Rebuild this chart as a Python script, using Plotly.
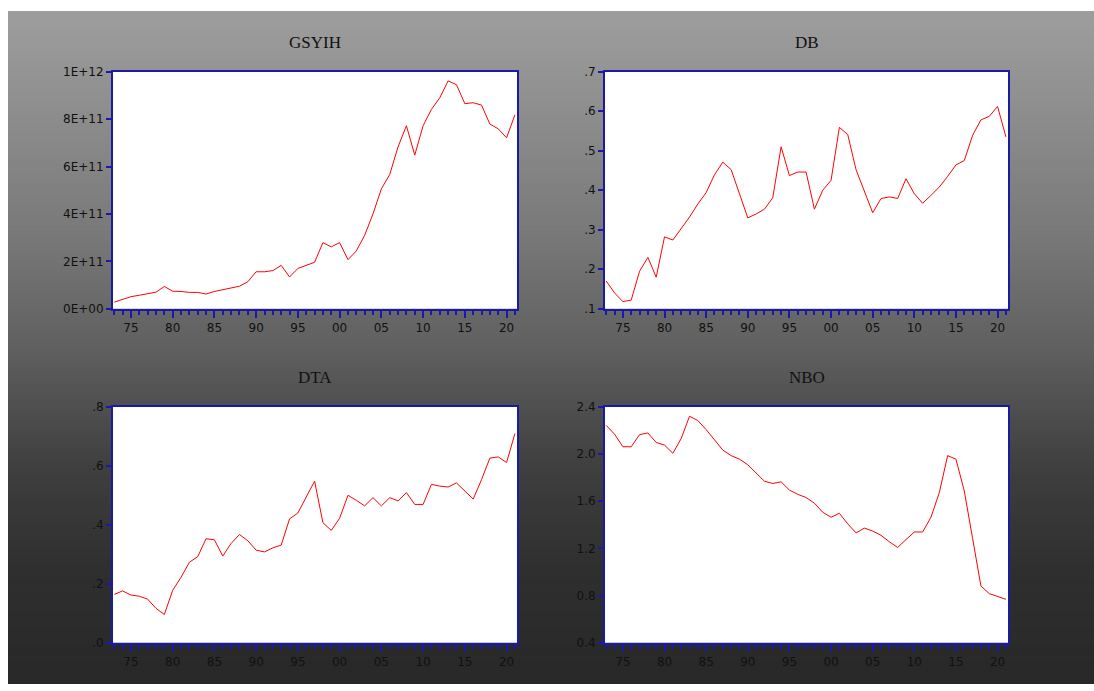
import plotly.graph_objects as go

years = list(range(1973, 2022))

gsyih = [2.8e10, 4.1e10, 5.1e10, 5.7e10, 6.2e10, 7.0e10, 9.4e10, 7.4e10, 7.3e10, 6.9e10,
         6.9e10, 6.2e10, 7.3e10, 8.0e10, 8.7e10, 9.5e10, 1.14e11, 1.56e11, 1.56e11, 1.61e11,
         1.83e11, 1.34e11, 1.70e11, 1.83e11, 1.96e11, 2.79e11, 2.61e11, 2.79e11, 2.07e11, 2.44e11,
         3.10e11, 4.0e11, 5.06e11, 5.66e11, 6.83e11, 7.72e11, 6.48e11, 7.72e11, 8.41e11, 8.9e11,
         9.61e11, 9.45e11, 8.65e11, 8.69e11, 8.59e11, 7.79e11, 7.59e11, 7.21e11, 8.18e11]

db = [0.170, 0.140, 0.118, 0.122, 0.195, 0.230, 0.180, 0.282, 0.274, 0.303,
      0.332, 0.365, 0.394, 0.439, 0.471, 0.452, 0.390, 0.330, 0.340, 0.352,
      0.381, 0.510, 0.437, 0.446, 0.446, 0.352, 0.400, 0.425, 0.559, 0.541,
      0.452, 0.398, 0.343, 0.379, 0.383, 0.379, 0.429, 0.391, 0.367, 0.387,
      0.408, 0.435, 0.464, 0.475, 0.539, 0.578, 0.587, 0.612, 0.535]

dta = [0.164, 0.176, 0.162, 0.158, 0.148, 0.117, 0.096, 0.178, 0.222, 0.273,
       0.292, 0.353, 0.349, 0.294, 0.337, 0.367, 0.346, 0.314, 0.308, 0.322,
       0.331, 0.420, 0.440, 0.492, 0.548, 0.407, 0.381, 0.422, 0.500, 0.483,
       0.464, 0.492, 0.464, 0.492, 0.481, 0.509, 0.469, 0.469, 0.537, 0.531,
       0.528, 0.542, 0.514, 0.487, 0.553, 0.626, 0.630, 0.611, 0.709]

nbo = [2.242, 2.167, 2.061, 2.061, 2.164, 2.178, 2.097, 2.075, 2.006, 2.131,
       2.319, 2.283, 2.206, 2.117, 2.033, 1.986, 1.956, 1.908, 1.839, 1.769,
       1.750, 1.764, 1.694, 1.658, 1.631, 1.583, 1.506, 1.464, 1.497, 1.408,
       1.331, 1.372, 1.347, 1.311, 1.256, 1.208, 1.275, 1.339, 1.339, 1.464,
       1.672, 1.986, 1.956, 1.686, 1.283, 0.881, 0.817, 0.792, 0.769]

titles = ["GSYIH", "DB", "DTA", "NBO"]
series = [gsyih, db, dta, nbo]

x_tickvals = [1975, 1980, 1985, 1990, 1995, 2000, 2005, 2010, 2015, 2020]
x_ticktext = ["75", "80", "85", "90", "95", "00", "05", "10", "15", "20"]

y_ticks = [
    ([0, 2e11, 4e11, 6e11, 8e11, 1e12], ["0E+00", "2E+11", "4E+11", "6E+11", "8E+11", "1E+12"], [0, 1e12]),
    ([0.1, 0.2, 0.3, 0.4, 0.5, 0.6, 0.7], [".1", ".2", ".3", ".4", ".5", ".6", ".7"], [0.1, 0.7]),
    ([0.0, 0.2, 0.4, 0.6, 0.8], [".0", ".2", ".4", ".6", ".8"], [0.0, 0.8]),
    ([0.4, 0.8, 1.2, 1.6, 2.0, 2.4], ["0.4", "0.8", "1.2", "1.6", "2.0", "2.4"], [0.4, 2.4]),
]

W, H = 1094, 691
# pixel boxes of plot areas (left, right, top, bottom)
boxes = [(113, 517, 66, 308), (605, 1008, 66, 308), (113, 517, 408, 649), (605, 1008, 408, 649)]

fig = go.Figure()
BLUE = "#1a1aa6"
shapes = []

# gradient background (thin white strip on left/top)
stops = [(0.0, 158), (0.33, 121), (0.5, 96), (0.67, 64), (0.83, 47), (1.0, 40)]
def gray_at(t):
    for (t0, g0), (t1, g1) in zip(stops[:-1], stops[1:]):
        if t0 <= t <= t1:
            return g0 + (g1 - g0) * (t - t0) / (t1 - t0)
    return stops[-1][1]

top_px = 4
step = 3
p = top_px
while p < H:
    g = int(round(gray_at((p + step / 2 - top_px) / (H - top_px))))
    shapes.append(dict(type="rect", xref="paper", yref="paper",
                       x0=8 / W, x1=1.0, y0=max(0.0, 1 - (p + step + 2) / H), y1=1 - p / H,
                       fillcolor=f"rgb({g},{g},{g})", line=dict(width=0), layer="below"))
    p += step

# white plot areas
for (l, r, t, b) in boxes:
    shapes.append(dict(type="rect", xref="paper", yref="paper",
                       x0=l / W, x1=r / W, y0=1 - b / H, y1=1 - t / H,
                       fillcolor="white", line=dict(width=0), layer="below"))

annotations = []
for i, (name, vals) in enumerate(zip(titles, series)):
    l, r, t, b = boxes[i]
    idx = "" if i == 0 else str(i + 1)
    fig.add_trace(go.Scatter(x=years, y=vals, mode="lines",
                             line=dict(color="#ff0000", width=1),
                             xaxis="x" + idx, yaxis="y" + idx, showlegend=False))
    tv, tt, rng = y_ticks[i]
    fig.update_layout(**{
        "xaxis" + idx: dict(domain=[l / W, r / W], anchor="y" + idx,
                            range=[1972.85, 2021.25],
                            tickvals=x_tickvals, ticktext=x_ticktext,
                            ticks="outside", ticklen=7, tickwidth=2, tickcolor=BLUE,
                            minor=dict(dtick=1, tick0=1973, ticks="outside", ticklen=4,
                                       tickwidth=2, tickcolor=BLUE, showgrid=False),
                            showline=True, linecolor=BLUE, linewidth=2, mirror=True,
                            showgrid=False, zeroline=False,
                            tickfont=dict(family="DejaVu Sans", size=12, color="#111111")),
        "yaxis" + idx: dict(domain=[1 - b / H, 1 - t / H], anchor="x" + idx,
                            range=rng, tickvals=tv, ticktext=tt,
                            ticks="outside", ticklen=5, tickwidth=2, tickcolor=BLUE,
                            showline=True, linecolor=BLUE, linewidth=2, mirror=True,
                            showgrid=False, zeroline=False,
                            tickfont=dict(family="DejaVu Sans", size=12, color="#111111")),
    })
    annotations.append(dict(text=name, xref="paper", yref="paper",
                            x=(l + r) / 2 / W, y=1 - (t - 30) / H,
                            xanchor="center", yanchor="middle", showarrow=False,
                            font=dict(family="Liberation Serif", size=17, color="#111111")))

fig.update_layout(width=W, height=H, margin=dict(l=0, r=0, t=0, b=0),
                  paper_bgcolor="white", plot_bgcolor="rgba(0,0,0,0)",
                  shapes=shapes, annotations=annotations, showlegend=False)

fig.write_html(
    "out.html",
    config={"displayModeBar": False, "staticPlot": True},
    post_script=(
        "var de=document.documentElement, bd=document.body;"
        "de.style.margin='0';de.style.padding='0';de.style.overflow='hidden';de.style.height='691px';"
        "bd.style.margin='0';bd.style.padding='0';bd.style.overflow='hidden';bd.style.height='691px';"
    ),
)
